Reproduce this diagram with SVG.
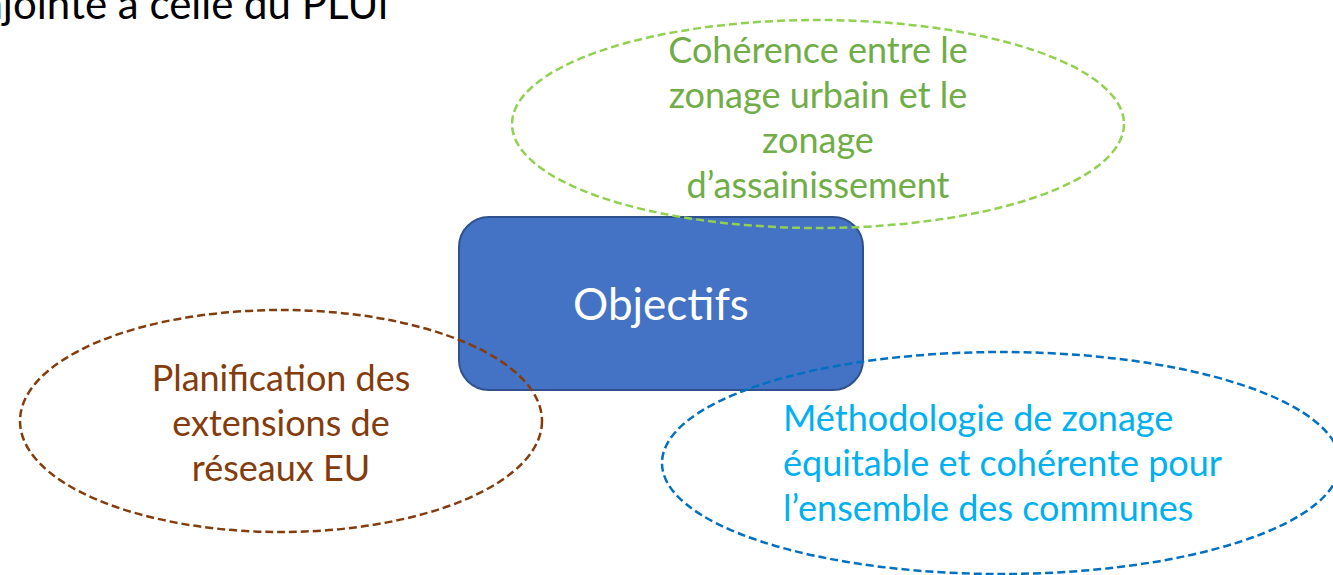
<svg xmlns="http://www.w3.org/2000/svg" width="1333" height="575" viewBox="0 0 1333 575">
<style>
text{font-family:"Lato","Noto Sans","Liberation Sans",sans-serif}
.oval{fill:none;stroke-width:2.5;stroke-dasharray:8 4}
.t36{font-size:36px}
</style>
<rect width="1333" height="575" fill="#fff"/>
<text x="388" y="19" text-anchor="end" font-size="42" fill="#000">conjointe à celle du PLUi</text>
<g id="objectifs">
<rect x="459" y="217" width="404" height="173" rx="30" fill="#4472C4" stroke="#2F528F" stroke-width="2"/>
<text x="661" y="320" text-anchor="middle" font-size="44" fill="#fff">Objectifs</text>
</g>
<g id="coherence">
<ellipse class="oval" cx="818" cy="124" rx="306" ry="104" stroke="#92D050"/>
<text class="t36" x="818" y="63" text-anchor="middle" fill="#70AD47"><tspan x="818">Cohérence entre le</tspan><tspan x="818" dy="45">zonage urbain et le</tspan><tspan x="818" dy="45">zonage</tspan><tspan x="818" dy="45">d’assainissement</tspan></text>
</g>
<g id="planification">
<ellipse class="oval" cx="281" cy="421" rx="261" ry="111" stroke="#843C0C"/>
<text class="t36" x="281" y="391" text-anchor="middle" fill="#843C0C"><tspan x="281">Planification des</tspan><tspan x="281" dy="45">extensions de</tspan><tspan x="281" dy="45">réseaux EU</tspan></text>
</g>
<g id="methodologie">
<ellipse class="oval" cx="1001" cy="463" rx="339" ry="111" stroke="#0070C0"/>
<text class="t36" x="783" y="431" font-size="35.5" fill="#00B0F0"><tspan x="783">Méthodologie de zonage</tspan><tspan x="783" dy="45">équitable et cohérente pour</tspan><tspan x="783" dy="45">l’ensemble des communes</tspan></text>
</g>
<g id="connectors"></g>
</svg>
